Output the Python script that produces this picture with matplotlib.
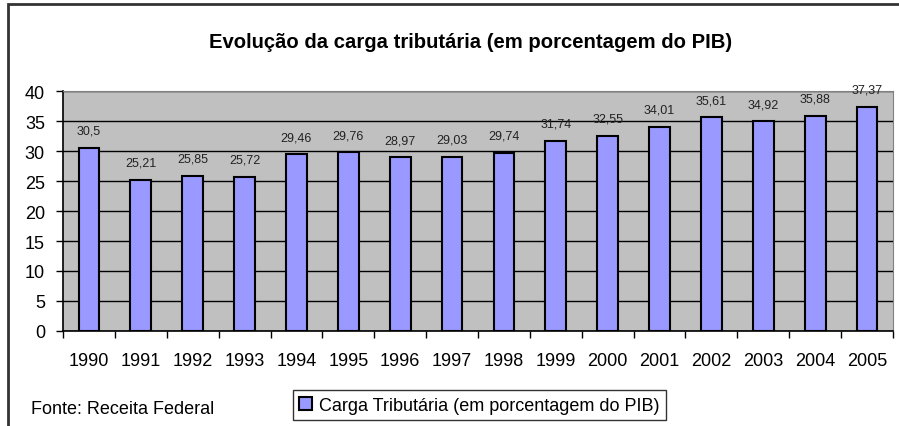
import matplotlib.pyplot as plt
from matplotlib.patches import Rectangle
from matplotlib.ticker import MultipleLocator, FixedLocator
import numpy as np

plt.rcParams['font.family'] = ['Liberation Sans', 'DejaVu Sans']

# dados
anos = ['1990', '1991', '1992', '1993', '1994', '1995', '1996', '1997',
        '1998', '1999', '2000', '2001', '2002', '2003', '2004', '2005']
carga = [30.5, 25.21, 25.85, 25.72, 29.46, 29.76, 28.97, 29.03,
         29.74, 31.74, 32.55, 34.01, 35.61, 34.92, 35.88, 37.37]
rotulos = ['30,5', '25,21', '25,85', '25,72', '29,46', '29,76', '28,97', '29,03',
           '29,74', '31,74', '32,55', '34,01', '35,61', '34,92', '35,88', '37,37']

fig = plt.figure(figsize=(8.99, 4.27), dpi=100)
ax = fig.add_axes([0.0701, 0.2225, 0.9232, 0.562])

x = np.arange(len(anos))
bars = ax.bar(x, carga, width=0.4, color='#9999FF', edgecolor='black',
              linewidth=1.5, zorder=3, label='Carga Tributária (em porcentagem do PIB)')

for xi, v, txt in zip(x, carga, rotulos):
    ax.annotate(txt, (xi, v), xytext=(0, 8), textcoords='offset points',
                ha='center', va='bottom', fontsize=9, color='#222222')

ax.set_facecolor('#C0C0C0')
ax.set_xlim(-0.5, len(anos) - 0.5)
ax.set_ylim(0, 40)
ax.yaxis.set_major_locator(MultipleLocator(5))
ax.grid(axis='y', color='black', linewidth=1, zorder=1)
ax.set_axisbelow(True)

# rotulos no centro, marcas entre as categorias
ax.set_xticks(x)
ax.set_xticklabels(anos, fontsize=13)
ax.tick_params(axis='x', which='major', length=0, pad=15)
ax.xaxis.set_minor_locator(FixedLocator(np.arange(-0.5, len(anos), 1)))
ax.tick_params(axis='x', which='minor', length=5, width=1, color='black')
ax.tick_params(axis='y', labelsize=13, length=5, width=1, pad=8)

for s in ['top', 'right']:
    ax.spines[s].set_color('#808080')
for s in ['left', 'bottom']:
    ax.spines[s].set_color('black')
    ax.spines[s].set_linewidth(1.2)

fig.text(0.523, 0.9016, 'Evolução da carga tributária (em porcentagem do PIB)',
         ha='center', va='center', fontsize=14.6, fontweight='bold')
fig.text(0.035, 0.04, 'Fonte: Receita Federal', ha='left', va='center', fontsize=13)

leg = fig.legend(loc='center', bbox_to_anchor=(0.533, 0.049), fontsize=13,
                 frameon=True, fancybox=False, edgecolor='black',
                 handlelength=0.7, handleheight=0.7, handletextpad=0.4,
                 borderpad=0.35)
leg.get_frame().set_linewidth(1)

# moldura externa
fig.patches.append(Rectangle((8 / 899, -0.1), 1.1, 1 - 5 / 427 + 0.1,
                             transform=fig.transFigure, fill=False,
                             edgecolor='#333333', linewidth=2))

fig.savefig('out.png', dpi=100)
